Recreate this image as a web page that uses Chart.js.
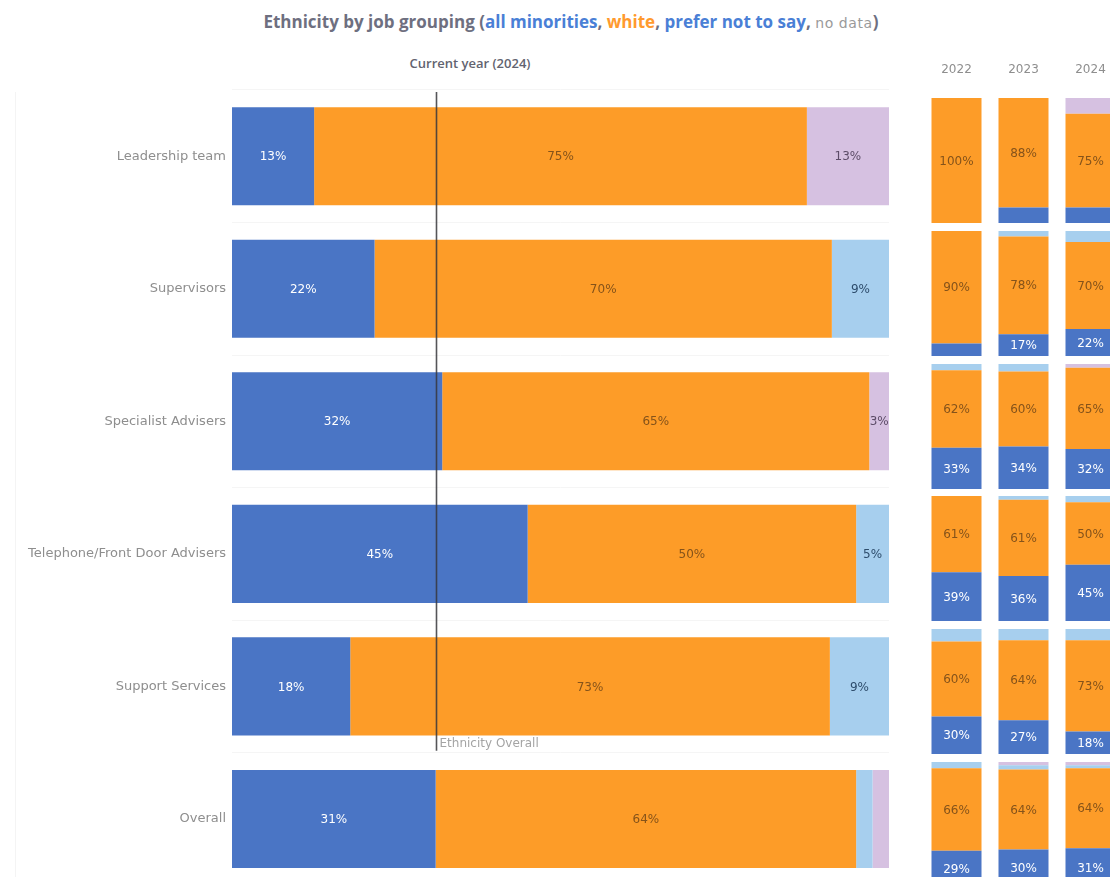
<!DOCTYPE html>
<html>
<head>
<meta charset="utf-8">
<title>Ethnicity by job grouping</title>
<script src="https://cdn.jsdelivr.net/npm/chart.js@4.4.1/dist/chart.umd.min.js"></script>
<style>
  html, body { margin: 0; padding: 0; background: #fff; overflow: hidden; }
  body { width: 1110px; height: 877px; position: relative; font-family: 'Open Sans', sans-serif; }
  #title {
    position: absolute; top: 11px; left: 0; width: 1142px;
    text-align: center; white-space: nowrap;
    font: 700 17px/22px 'Open Sans', sans-serif; color: #6e6f80;
  }
  #title .min { color: #4a7fd6; }
  #title .white { color: #ff9a2e; }
  #title .pnts { color: #4a7fd6; }
  #title .nd { color: #9a9a9a; font-weight: 400; font-family: 'DejaVu Sans', sans-serif; font-size: 14px; letter-spacing: 0.6px; }
  #subtitle {
    position: absolute; top: 54px; left: 0; width: 940px; text-align: center;
    font: 600 13px/18px 'Open Sans', sans-serif; color: #62636f;
  }
  #pane-edge { position: absolute; left: 15px; top: 92px; width: 1px; height: 785px; background: #f4f4f4; }
  canvas { position: absolute; }
  #current { left: 15px; top: 45px; }
</style>
</head>
<body>
<div id="title">Ethnicity by job grouping (<span class="min">all minorities</span>, <span class="white">white</span>, <span class="pnts">prefer not to say</span>, <span class="nd">no data</span>)</div>
<div id="subtitle">Current year (2024)</div>
<div id="pane-edge"></div>
<canvas id="current" width="910" height="854"></canvas>
<div id="trends"></div>

<script>
const groups = ['Leadership team', 'Supervisors', 'Specialist Advisers', 'Telephone/Front Door Advisers', 'Support Services', 'Overall'];
const years = ['2022', '2023', '2024'];
const seriesNames = ['All minorities', 'White', 'Prefer not to say', 'No data'];

// % of each job group, current year (2024)
const minorities2024 = [12.5, 21.7, 32, 45, 18, 31];
const white2024 = [75, 69.6, 65, 50, 73, 64];
const preferNot2024 = [0, 8.7, 0, 5, 9, 2.5];
const noData2024 = [12.5, 0, 3, 0, 0, 2.5];

// earlier years
const minorities2022 = [0, 10, 33, 39, 30, 29];
const white2022 = [100, 90, 62, 61, 60, 66];
const preferNot2022 = [0, 0, 5, 0, 10, 5];
const noData2022 = [0, 0, 0, 0, 0, 0];

const minorities2023 = [12.5, 17.4, 34, 36, 27, 30];
const white2023 = [87.5, 78.3, 60, 61, 64, 64];
const preferNot2023 = [0, 4.3, 6, 3, 9, 3.5];
const noData2023 = [0, 0, 0, 0, 0, 2.5];

// minorities across the whole organisation
const overallMinorities = 31;

const colors = ['#4a75c5', '#fd9c28', '#a7cfee', '#d6c1e1'];
const labelColors = ['#ffffff', '#85531a', '#2e4d6c', '#5d4d68'];

const current = [minorities2024, white2024, preferNot2024, noData2024];
const byYear = [
  [minorities2022, white2022, preferNot2022, noData2022],
  [minorities2023, white2023, preferNot2023, noData2023],
  current
];

// percentage text in the middle of each segment that is big enough
const segmentLabels = {
  id: 'segmentLabels',
  afterDatasetsDraw(chart, args, opts) {
    const ctx = chart.ctx;
    ctx.save();
    ctx.font = opts.font;
    ctx.textAlign = 'center';
    ctx.textBaseline = 'middle';
    chart.data.datasets.forEach((ds, di) => {
      chart.getDatasetMeta(di).data.forEach((bar, i) => {
        const v = ds.data[i];
        if (!v || v < opts.minValue) return;
        const p = bar.getCenterPoint();
        ctx.fillStyle = labelColors[di];
        ctx.fillText(Math.round(v) + '%', p.x, p.y + 1);
      });
    });
    ctx.restore();
  }
};

// reference line for the organisation-wide minorities share
const overallLine = {
  id: 'overallLine',
  afterDatasetsDraw(chart) {
    const { ctx, chartArea, scales: { x, y } } = chart;
    const px = Math.round(x.getPixelForValue(overallMinorities)) + 0.5;
    const bottom = (y.getPixelForValue(4) + y.getPixelForValue(5)) / 2 - 2;
    ctx.save();
    ctx.strokeStyle = 'rgba(55,55,60,0.85)';
    ctx.lineWidth = 1.6;
    ctx.beginPath();
    ctx.moveTo(px, chartArea.top + 2);
    ctx.lineTo(px, bottom);
    ctx.stroke();
    ctx.font = '12px "DejaVu Sans"';
    ctx.fillStyle = '#a4a4a4';
    ctx.textAlign = 'left';
    ctx.textBaseline = 'bottom';
    ctx.fillText('Ethnicity Overall', px + 3, bottom - 1);
    ctx.restore();
  }
};

new Chart(document.getElementById('current'), {
  type: 'bar',
  data: {
    labels: groups,
    datasets: seriesNames.map((name, i) => ({
      label: name,
      data: current[i],
      backgroundColor: colors[i],
      borderWidth: 0,
      barPercentage: 0.74,
      categoryPercentage: 1
    }))
  },
  options: {
    indexAxis: 'y',
    responsive: false,
    animation: false,
    layout: { padding: { left: 0, right: 36, top: 45, bottom: 0 } },
    scales: {
      x: { stacked: true, min: 0, max: 100, display: false },
      y: {
        stacked: true,
        grid: { offset: true, color: '#f5f5f5', drawTicks: false },
        border: { display: false },
        ticks: { color: '#8e8e8e', font: { family: 'DejaVu Sans', size: 13 }, padding: 6 },
        afterFit(scale) { scale.width = 217; }
      }
    },
    plugins: {
      legend: { display: false },
      tooltip: { enabled: false },
      segmentLabels: { font: '12px "DejaVu Sans"', minValue: 3 }
    }
  },
  plugins: [overallLine, segmentLabels]
});

// small year-on-year columns, one chart per job group
const trendBox = document.getElementById('trends');
const rowPitch = 132.8;
const rowHeight = 125;
const headerHeight = 43;

groups.forEach((group, r) => {
  const canvas = document.createElement('canvas');
  const withHeader = r === 0;
  const top = 98 + r * rowPitch - (withHeader ? headerHeight : 0);
  canvas.width = 201;
  canvas.height = rowHeight + (withHeader ? headerHeight : 0);
  canvas.style.left = '923px';
  canvas.style.top = Math.round(top) + 'px';
  trendBox.appendChild(canvas);

  new Chart(canvas, {
    type: 'bar',
    data: {
      labels: years,
      datasets: seriesNames.map((name, i) => ({
        label: name,
        data: byYear.map(yearData => yearData[i][r]),
        backgroundColor: colors[i],
        borderWidth: 0,
        barPercentage: 50 / 67,
        categoryPercentage: 1
      }))
    },
    options: {
      responsive: false,
      animation: false,
      layout: { padding: 0, autoPadding: false },
      scales: {
        x: {
          stacked: true,
          display: withHeader,
          position: 'top',
          grid: { display: false, drawTicks: false },
          border: { display: false },
          ticks: { color: '#8e8e8e', font: { family: 'DejaVu Sans', size: 12 }, padding: 21 },
          afterFit(scale) {
            if (!withHeader) return;
            scale.height = headerHeight;
            // keep the year columns the same width as the rows below
            scale.paddingLeft = 0;
            scale.paddingRight = 0;
          }
        },
        y: { stacked: true, min: 0, max: 100, display: false }
      },
      plugins: {
        legend: { display: false },
        tooltip: { enabled: false },
        segmentLabels: { font: '12px "DejaVu Sans"', minValue: 15 }
      }
    },
    plugins: [segmentLabels]
  });
});
</script>
</body>
</html>
